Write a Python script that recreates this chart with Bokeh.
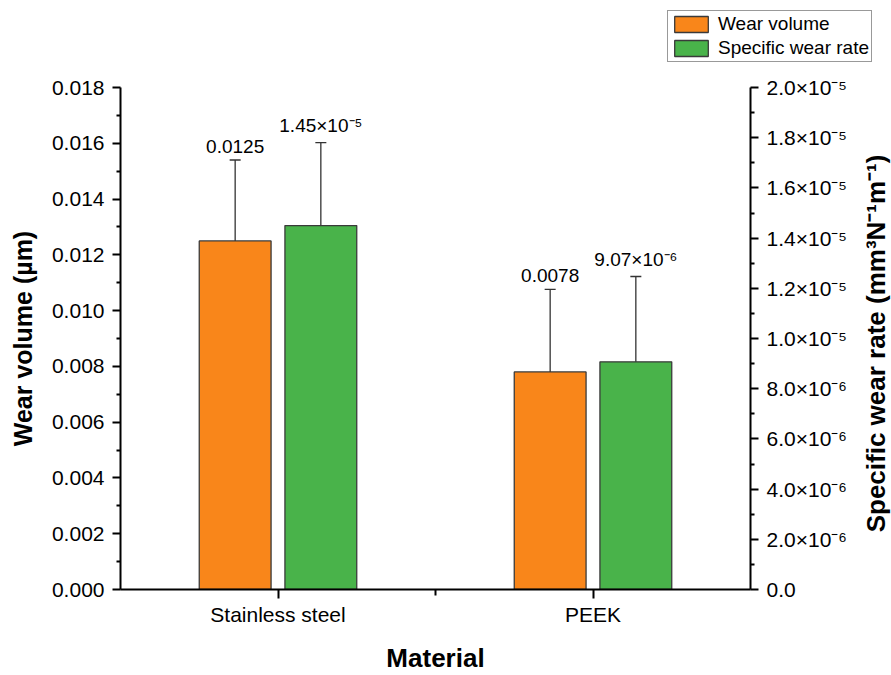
import math
import numpy as np
from bokeh.plotting import figure
from bokeh.layouts import column, row
from bokeh.models import (Range1d, LinearAxis, FixedTicker, NumeralTickFormatter,
                          ColumnDataSource, Whisker, TeeHead, Legend, LegendItem, Label)
from bokeh.core.properties import value
from bokeh.embed import file_html
from bokeh.resources import INLINE

# ---------------- data ----------------
materials = ["Stainless steel", "PEEK"]
wear_volume = [0.0125, 0.0078]            # µm (left axis)
wear_volume_err = [0.0029, 0.00296]
wear_volume_labels = ["0.0125", "0.0078"]
specific_wear_rate = [1.45e-5, 9.07e-6]   # mm3 N-1 m-1 (right axis)
specific_wear_rate_err = [0.33e-5, 0.34e-5]
specific_wear_rate_labels = ["1.45×10⁻⁵", "9.07×10⁻⁶"]
right_tick_labels = ["0.0", "2.0×10⁻⁶", "4.0×10⁻⁶", "6.0×10⁻⁶", "8.0×10⁻⁶", "1.0×10⁻⁵",
                     "1.2×10⁻⁵", "1.4×10⁻⁵", "1.6×10⁻⁵", "1.8×10⁻⁵", "2.0×10⁻⁵"]
series_names = ["Wear volume", "Specific wear rate"]
right_title = "Specific wear rate (mm³N⁻¹m⁻¹)"

ORANGE = "#F9861A"
GREEN = "#49B34A"
EDGE = "#3a3a3a"
FONT = "Liberation Sans"
RSCALE = 1e6  # right axis drawn in units of 1e-6

TOP_H = 67      # legend strip height
MAIN_W = 860
MAIN_H = 675 - TOP_H
SIDE_W = 891 - MAIN_W

xpos = np.arange(1, len(materials) + 1, dtype=float)
off = 0.136
bw = 0.228

p = figure(width=MAIN_W, height=MAIN_H, x_range=Range1d(0.5, 2.5), y_range=Range1d(0, 0.018),
           output_backend="svg", toolbar_location=None,
           min_border_left=120, min_border_right=MAIN_W - 750, min_border_top=20,
           min_border_bottom=81)
p.extra_y_ranges = {"right": Range1d(0, 20)}
p.outline_line_color = None
p.xgrid.visible = False
p.ygrid.visible = False


def style_axis(ax, major_out=8, minor_out=4):
    ax.axis_line_width = 2
    ax.axis_line_color = "black"
    ax.major_tick_line_width = 2
    ax.minor_tick_line_width = 2
    ax.major_tick_line_color = "black"
    ax.minor_tick_line_color = "black"
    ax.major_tick_in = 0
    ax.major_tick_out = major_out
    ax.minor_tick_in = 0
    ax.minor_tick_out = minor_out
    ax.major_label_text_font = FONT
    ax.major_label_text_font_size = "21px"
    ax.major_label_text_color = "black"
    ax.axis_label_text_font = FONT
    ax.axis_label_text_font_style = "bold"
    ax.axis_label_text_font_size = "26px"
    ax.axis_label_text_color = "black"


yl = p.yaxis[0]
yl.ticker = FixedTicker(ticks=[round(i * 0.002, 3) for i in range(10)],
                        minor_ticks=[round(0.001 + i * 0.002, 3) for i in range(9)])
yl.formatter = NumeralTickFormatter(format="0.000")
style_axis(yl)
yl.axis_label = "Wear volume (µm)"
yl.axis_label_text_font_size = "25px"
yl.major_label_standoff = 8
yl.axis_label_standoff = 12

xa = p.xaxis[0]
xa.ticker = FixedTicker(ticks=list(xpos), minor_ticks=[1.5])
xa.major_label_overrides = {float(x): m for x, m in zip(xpos, materials)}
style_axis(xa, major_out=9, minor_out=6)
xa.axis_label = "Material"
xa.major_label_standoff = 4
xa.axis_label_standoff = 14

yr = LinearAxis(y_range_name="right")
yr.ticker = FixedTicker(ticks=list(range(0, 21, 2)), minor_ticks=list(range(1, 20, 2)))
yr.major_label_overrides = {t: lab for t, lab in zip(range(0, 21, 2), right_tick_labels)}
style_axis(yr)
yr.major_label_standoff = 8
p.add_layout(yr, "right")

# --- bars
src_wv = ColumnDataSource(dict(x=xpos - off, top=wear_volume,
                               upper=[v + e for v, e in zip(wear_volume, wear_volume_err)],
                               lower=[v - e for v, e in zip(wear_volume, wear_volume_err)],
                               lab=wear_volume_labels))
src_sr = ColumnDataSource(dict(x=xpos + off, top=[v * RSCALE for v in specific_wear_rate],
                               upper=[(v + e) * RSCALE for v, e in zip(specific_wear_rate, specific_wear_rate_err)],
                               lower=[(v - e) * RSCALE for v, e in zip(specific_wear_rate, specific_wear_rate_err)],
                               lab=specific_wear_rate_labels))

p.vbar(x="x", top="top", width=bw, source=src_wv, fill_color=ORANGE,
       line_color=EDGE, line_width=1.3)
p.vbar(x="x", top="top", width=bw, source=src_sr, fill_color=GREEN,
       line_color=EDGE, line_width=1.3, y_range_name="right")

for src, rn in ((src_wv, "default"), (src_sr, "right")):
    w = Whisker(source=src, base="x", upper="upper", lower="lower", dimension="height",
                line_color="#333333", line_width=1.3,
                upper_head=TeeHead(size=11, line_color="#333333", line_width=1.3),
                lower_head=TeeHead(size=11, line_color="#333333", line_width=1.3),
                y_range_name=rn)
    p.add_layout(w)

p.text(x="x", y="upper", text="lab", source=src_wv, text_align="center",
       text_baseline="bottom", y_offset=-7, text_font=value(FONT),
       text_font_size="19px", text_color="black")
p.text(x="x", y="upper", text="lab", source=src_sr, text_align="center",
       text_baseline="bottom", y_offset=-7, text_font=value(FONT),
       text_font_size="19px", text_color="black", y_range_name="right")

# --- legend strip (top)
lg = figure(width=891, height=TOP_H, x_range=Range1d(0, 891), y_range=Range1d(0, TOP_H),
            output_backend="svg", toolbar_location=None, x_axis_type=None, y_axis_type=None,
            min_border=0)
lg.outline_line_color = None
lg.xgrid.visible = False
lg.ygrid.visible = False
# swatch renderers (tiny, hidden behind the legend box; only their legend glyphs show)
d1 = lg.vbar(x=[780], bottom=[30], top=[31], width=1, fill_color=ORANGE,
             line_color=EDGE, line_width=1.3)
d2 = lg.vbar(x=[780], bottom=[30], top=[31], width=1, fill_color=GREEN,
             line_color=EDGE, line_width=1.3)
legend = Legend(items=[LegendItem(label=series_names[0], renderers=[d1]),
                       LegendItem(label=series_names[1], renderers=[d2])],
                location=(667, TOP_H - 62))
legend.border_line_color = "#333333"
legend.border_line_width = 1
legend.background_fill_color = "white"
legend.background_fill_alpha = 1
legend.padding = 2
legend.spacing = 2
legend.margin = 0
legend.glyph_width = 42
legend.glyph_height = 20
legend.label_height = 20
legend.label_standoff = 6
legend.label_text_font = FONT
legend.label_text_font_size = "19px"
legend.label_text_color = "black"
legend.label_text_baseline = "middle"
lg.add_layout(legend, "center")

# --- right axis title strip
tf = figure(width=SIDE_W, height=MAIN_H, x_range=Range1d(0, SIDE_W), y_range=Range1d(0, MAIN_H),
            output_backend="svg", toolbar_location=None, x_axis_type=None, y_axis_type=None,
            min_border=0)
tf.outline_line_color = None
tf.xgrid.visible = False
tf.ygrid.visible = False
tf.add_layout(Label(x=15, y=MAIN_H - (377 - TOP_H), text=right_title,
                    angle=math.pi / 2, text_align="center", text_baseline="middle",
                    text_font=FONT, text_font_style="bold", text_font_size="26px",
                    text_color="black"))

layout = column(lg, row(p, tf, spacing=0), spacing=0)
open("out.html", "w").write(file_html(layout, INLINE))
